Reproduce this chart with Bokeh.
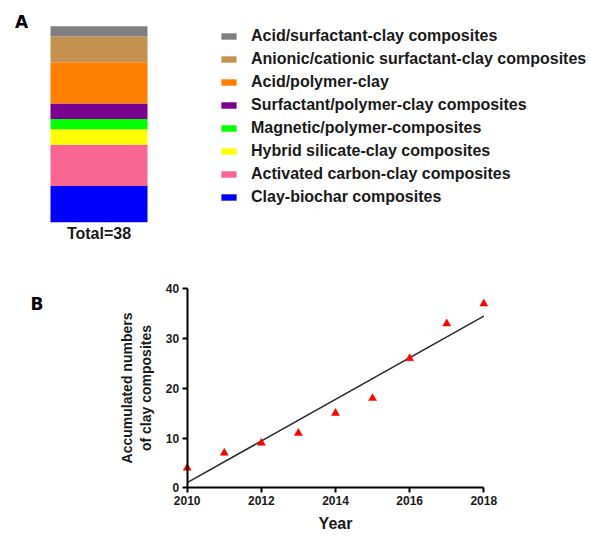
import numpy as np
from bokeh.plotting import figure
from bokeh.models import (ColumnDataSource, Range1d, Legend, LegendItem, Label,
                          FixedTicker)
from bokeh.embed import file_html
from bokeh.resources import INLINE

# ---------------- data ----------------
# Panel A: stacked composition (bottom -> top)
categories = ["Clay-biochar composites",
              "Activated carbon-clay composites",
              "Hybrid silicate-clay composites",
              "Magnetic/polymer-composites",
              "Surfactant/polymer-clay composites",
              "Acid/polymer-clay",
              "Anionic/cationic surfactant-clay composites",
              "Acid/surfactant-clay composites"]
counts = [7, 8, 3, 2, 3, 8, 5, 2]
colors = ["#0000FF", "#F96593", "#FFFF00", "#00FF00",
          "#7A0090", "#FF8000", "#C4924E", "#808080"]

# Panel B: accumulated numbers per year
years = [2010, 2011, 2012, 2013, 2014, 2015, 2016, 2017, 2018]
accumulated = [4, 7, 9, 11, 15, 18, 26, 33, 37]
x_ticks = [2010, 2012, 2014, 2016, 2018]
y_ticks = [0, 10, 20, 30, 40]

FONT = "Liberation Sans"
TXT = "#1a1a1a"
total = sum(counts)


def lin(p0, v0, p1, v1):
    """pixel -> value mapping from two anchor pairs (layout helper)."""
    s = (v1 - v0) / (p1 - p0)
    return lambda p: v0 + (p - p0) * s


# ---------------- panel A (frame = whole canvas) ----------------
WA, HA = 590, 243
fxa = lin(50, -0.5, 147, 0.5)            # bar spans these pixels
fya = lin(221.7, 0, 25.7, total)         # bar bottom / top pixels
pa = figure(width=WA, height=HA, output_backend="svg", toolbar_location=None,
            x_range=Range1d(fxa(0), fxa(WA)), y_range=Range1d(fya(HA), fya(0)),
            min_border_left=0, min_border_right=0,
            min_border_top=0, min_border_bottom=0)
pa.axis.visible = False
pa.grid.visible = False
pa.outline_line_color = None

keys = [f"c{i}" for i in range(len(counts))]
src = {"x": [0]}
for k, v in zip(keys, counts):
    src[k] = [v]
source = ColumnDataSource(src)
rs = pa.vbar_stack(keys, x="x", width=1.0, source=source,
                   color=colors, line_color=None)

items = [LegendItem(label=lab, renderers=[r]) for lab, r in zip(categories, rs)]
items.reverse()
legend = Legend(items=items, location=(219, 36), padding=0, margin=0,
                border_line_color=None, background_fill_alpha=0,
                glyph_width=19, glyph_height=8, label_standoff=13,
                label_height=20, spacing=3,
                label_text_font=FONT, label_text_font_style="bold",
                label_text_font_size="16px", label_text_color=TXT)
pa.add_layout(legend)

pa.add_layout(Label(x=0, y=fya(233), text=f"Total={total}",
                    text_align="center", text_baseline="middle",
                    text_font=FONT, text_font_style="bold",
                    text_font_size="16px", text_color=TXT))
pa.add_layout(Label(x=fxa(21), y=fya(21), text="A",
                    text_align="center", text_baseline="middle",
                    text_font="DejaVu Sans", text_font_style="bold",
                    text_font_size="17px", text_color="black"))

# ---------------- panel B (frame = whole canvas, axes at fixed data locations) ----
TOPB = HA
WB, HB = 590, 292
fxb = lin(186.7, years[0], 483.3, years[-1])
fyb = lin(487.3, 0, 288.3, 40)
pb = figure(width=WB, height=HB, output_backend="svg", toolbar_location=None,
            x_range=Range1d(fxb(0), fxb(WB)),
            y_range=Range1d(fyb(TOPB + HB), fyb(TOPB)),
            min_border_left=0, min_border_right=0,
            min_border_top=0, min_border_bottom=0)
pb.grid.visible = False
pb.outline_line_color = None

slope, intercept = np.polyfit(years, accumulated, 1)
xf = [years[0], years[-1]]
yf = [slope * xv + intercept for xv in xf]
pb.line(xf, yf, line_color="#2b2b2b", line_width=1.6)
pb.scatter(years, accumulated, marker="triangle", size=8,
           fill_color="#FF0000", line_color="#FF0000", line_width=0.5)

for ax in (pb.xaxis[0], pb.yaxis[0]):
    ax.axis_line_width = 2
    ax.axis_line_color = "black"
    ax.major_tick_line_width = 2
    ax.major_tick_line_color = "black"
    ax.major_tick_out = 5
    ax.major_tick_in = 0
    ax.minor_tick_line_color = None
    ax.major_label_text_font = FONT
    ax.major_label_text_font_style = "bold"
    ax.major_label_text_font_size = "12px"
    ax.major_label_text_color = TXT
    ax.major_label_standoff = 3
    ax.axis_label_text_font = FONT
    ax.axis_label_text_font_style = "bold"
    ax.axis_label_text_color = TXT

xa = pb.xaxis[0]
xa.ticker = FixedTicker(ticks=x_ticks)
xa.bounds = (years[0], years[-1])
xa.fixed_location = y_ticks[0]
xa.axis_label = "Year"
xa.axis_label_text_font_size = "16px"
xa.axis_label_standoff = 7

ya = pb.yaxis[0]
ya.ticker = FixedTicker(ticks=y_ticks)
ya.bounds = (y_ticks[0], y_ticks[-1])
ya.fixed_location = years[0]
ya.axis_label = "Accumulated numbers\nof clay composites"
ya.axis_label_text_font_size = "14px"
ya.axis_label_standoff = 9

pb.add_layout(Label(x=fxb(36.5), y=fyb(303), text="B",
                    text_align="center", text_baseline="middle",
                    text_font="DejaVu Sans", text_font_style="bold",
                    text_font_size="17px", text_color="black"))

open("out.html", "w").write(file_html([pa, pb], INLINE))
